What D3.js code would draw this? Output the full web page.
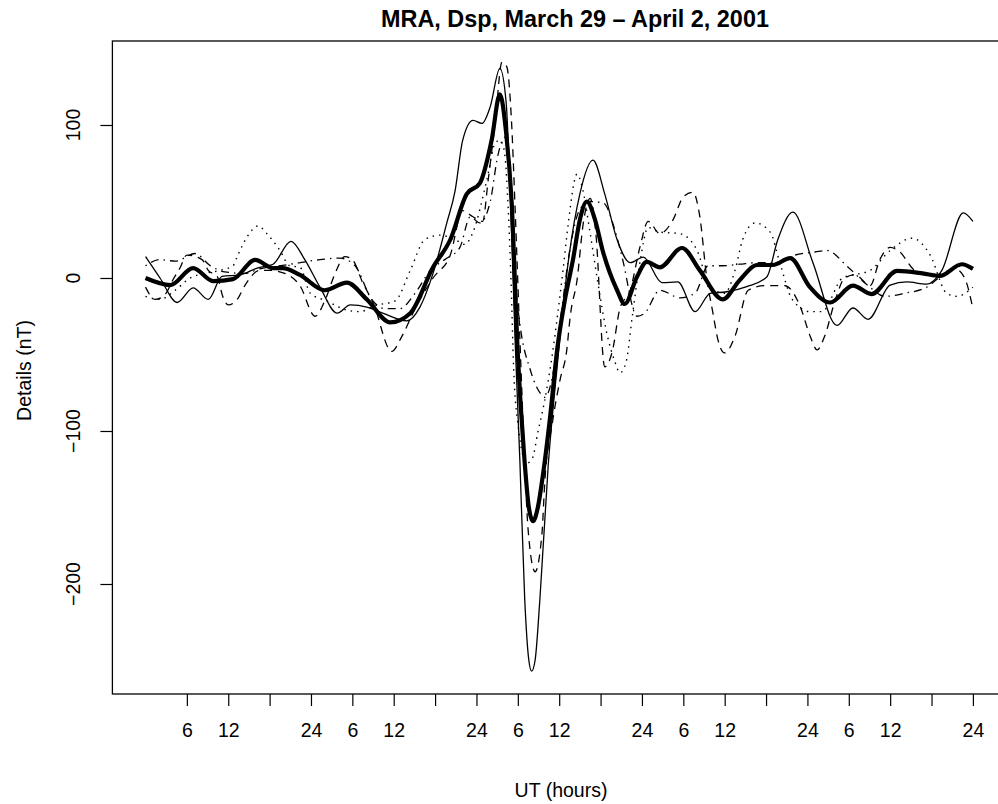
<!DOCTYPE html>
<html>
<head>
<meta charset="utf-8">
<script src="https://cdn.jsdelivr.net/npm/d3@7"></script>
<style>
  body { margin: 0; background: #fff; }
  text { font-family: "Liberation Sans", Arial, Helvetica, sans-serif; fill: #000; }
</style>
</head>
<body>
<div id="chart"></div>
<script>
// hours since 00 UT March 29, details in nT
var thickHours = [0,3.6,6.9,9.8,12.7,15.9,18.5,19.9,22.4,26.0,29.2,32.1,35.5,38.4,41.7,44.2,46.6,48.5,50.2,51.4,52.3,53.1,54.0,54.9,55.6,56.2,56.9,57.6,58.7,59.7,60.8,62.0,63.0,64.0,65.2,66.3,68.4,69.5,71.3,72.7,74.6,77.8,80.4,83.7,86.2,88.7,91.0,93.5,96.3,99.3,102.6,105.3,109.0,112.7,115.2,118.4,120];
var thickValues = [0,-4.6,6.5,-2,-0.7,11.8,6.5,6.5,2,-8,-3,-14,-29,-23,7,25,55,62,90,120,95,50,-50,-115,-150,-159,-150,-130,-90,-47,-15,12,38,50,38,18,-8,-17,1,10.5,7,19.6,5,-14,-1.3,8.5,8.5,13,-5.6,-16,-5,-10.5,4.6,3,1.3,9,6];

var solidHours = [0,2.1,4.6,6.9,9.1,11.1,13.7,16.2,18.5,21.1,23.1,25.3,27.8,29.7,32.1,34.4,37.9,39.8,41.7,43.7,44.9,46.0,47.5,48.8,50.0,51.4,52.3,52.9,53.6,54.3,55.0,55.6,56.0,56.5,57.2,58.4,59.7,61.3,63.0,64.9,66.6,68.4,70.3,72.2,74.9,77.2,79.7,81.9,84.3,87.2,90.1,91.7,93.9,96.8,100.3,102.6,104.8,108.0,110.4,113.3,115.5,118.6,120];
var solidValues = [14,0,-16,-6.5,-14,1,2,6.5,9,24,12,-6,-23,-17.6,-19,-23,-28,-19,3,36,57,90,103,101,112,137,115,55,-40,-120,-210,-250,-257,-250,-210,-123,-58,10,55,77,55,25,10,13.7,-3,-2.6,-22,-10,-9,-5.6,0.6,25,43,10,-31,-19.6,-27,-4.6,-2.6,-4,5,42.5,37];

var dashHours = [0,1.4,2.8,4.0,5.0,6.0,8.2,9.1,10.4,11.2,12.0,13.3,14.4,16.6,18.0,20.2,22.4,24.6,26.0,27.5,28.9,30.0,31.5,33.0,35.7,37.2,39.1,41.7,44.2,46.0,47.5,48.9,49.7,50.7,51.7,52.4,53.1,53.6,54.3,54.9,55.5,56.5,57.5,57.9,59.0,60.1,61.1,61.6,62.6,63.5,64.5,65.3,66.6,67.7,68.8,70.3,71.7,72.9,74.6,76.5,78.0,79.4,80.4,81.4,82.3,83.0,84.0,85.5,87.4,89.8,92.7,94.9,96.4,97.4,98.5,100.0,101.4,102.9,105.1,106.5,108.0,109.4,111.6,114.5,117.4,118.8,120];
var dashValues = [-6,-14,-11,-1,6.5,15,12,5,1,-12,-17.6,-14,-5,5,5,3,-5,-25,-15,3,14,12,-3,-16,-48,-38,-20,0,15,44,40,37,64,101,141,138,101,46,-40,-110,-165,-192,-167,-134,-95,-67,-47,-25,-1,36,52,30,-58,-48,-20,-8,20,37,29,38,53,56,40,0,-23,-40,-49,-38,-8,-5,-5,-18,-38,-47,-38,-15,0,2,-5,12,20,17,5,2,6,0,-20];

var dotHours = [0,2.1,4.3,6.5,8.6,10.8,12.7,13.3,14.9,16.3,17.8,19.5,20.9,22.4,23.9,26.3,29.2,31.1,33.3,36.2,38.4,40.5,42.7,44.9,46.3,47.5,49.5,50.7,51.4,52.0,52.6,53.0,53.4,54.0,55.3,56.1,56.9,57.9,59.0,59.8,60.6,61.3,62.6,63.3,64.5,65.5,66.9,68.1,68.8,69.7,70.6,71.7,72.9,74.6,77.5,80.0,81.9,84.0,85.5,86.6,88.4,90.6,92.0,93.8,96.4,98.1,101.1,105.1,108.0,111.2,113.8,116.2,117.7,120];
var dotValues = [-12,-14,-8,0,3,5,8,14,28,34,28,18,8,7,-10,-15,-21,-22,-18,-15,5,25,28,25,22,30,64,88,90,84,46,0,-60,-95,-121,-118,-101,-80,-50,-23,7,35,68,60,29,0,-36,-55,-62,-55,-25,10,33,30,29,18,-6,-10,5,25,36,30,10,-14,-22,-22,0,5,18,26,15,-10,-12,-6];

var dotDashHours = [0,2.1,4.3,7.2,9.4,11.5,14.4,16.6,19.5,22.4,25.3,28.2,30.4,32.8,34.7,36.9,39.1,41.3,43.4,45.6,47.1,48.5,50.0,51.1,52.1,52.9,53.6,54.3,55.8,57.2,57.9,59.0,60.1,61.6,63.0,64.5,66.4,68.1,69.1,71.3,72.4,74.6,77.5,79.7,81.6,83.7,86.2,88.7,91.3,94.2,97.1,98.8,101.9,104.8,107.2,110.1,113.3,115.9,118.6,120];
var dotDashValues = [8,12,11,16,8,4,3,6,8,10,12,13,8,-14,-20,-20,-10,5,12,20,40,36,50,80,92,60,0,-30,-60,-75,-78,-65,-30,20,45,50,49,31,14,-25,-23,-8,-13,-10,8,8,9,10,10,15,17,18,7,-5,-12,-10,-6,3,8,5];

var xTicks = d3.range(6, 121, 6);
var yTicks = [-200, -100, 0, 100];
var title = "MRA, Dsp, March 29 \u2013 April 2, 2001";

const width = 998;
const height = 804;
const box = { left: 112.4, right: 1006, top: 41, bottom: 694 };
const fontSize = 19.5;

var svg = d3.select("#chart").append("svg")
  .attr("width", width)
  .attr("height", height);

// R style: data range plus 4% on each side
var xPad = 120 * 0.04;
var x = d3.scaleLinear()
  .domain([-xPad, 120 + xPad])
  .range([box.left, box.right]);
var y = d3.scaleLinear()
  .domain([-271.9, 154.9])
  .range([box.bottom, box.top]);

var line = d3.line()
  .x(d => x(d[0]))
  .y(d => y(d[1]))
  .curve(d3.curveMonotoneX);

var series = [
  { hours: solidHours, values: solidValues, width: 1.3, dash: null },
  { hours: dashHours, values: dashValues, width: 1.3, dash: "8,6" },
  { hours: dotHours, values: dotValues, width: 1.4, dash: "1.5,5" },
  { hours: dotDashHours, values: dotDashValues, width: 1.3, dash: "1.5,5,8,5" },
  { hours: thickHours, values: thickValues, width: 4.2, dash: null }
];

svg.append("clipPath").attr("id", "plotclip")
  .append("rect")
  .attr("x", box.left).attr("y", box.top)
  .attr("width", box.right - box.left).attr("height", box.bottom - box.top);

var plot = svg.append("g").attr("clip-path", "url(#plotclip)");
series.forEach(function(s) {
  plot.append("path")
    .datum(d3.zip(s.hours, s.values))
    .attr("d", line)
    .attr("fill", "none")
    .attr("stroke", "black")
    .attr("stroke-width", s.width)
    .attr("stroke-linejoin", "round")
    .attr("stroke-dasharray", s.dash);
});

svg.append("rect")
  .attr("x", box.left).attr("y", box.top)
  .attr("width", box.right - box.left).attr("height", box.bottom - box.top)
  .attr("fill", "none")
  .attr("stroke", "black")
  .attr("stroke-width", 1.3);

// bottom axis, the 18h ticks carry no label
var xAxis = d3.axisBottom(x)
  .tickValues(xTicks)
  .tickSize(12)
  .tickPadding(17)
  .tickFormat(d => (d % 24 === 18) ? "" : String(d % 24 === 0 ? 24 : d % 24));
var gx = svg.append("g")
  .attr("transform", `translate(0,${box.bottom})`)
  .call(xAxis);
gx.select(".domain").remove();
gx.selectAll(".tick line").attr("stroke", "black").attr("stroke-width", 1.2);
gx.selectAll(".tick text").attr("font-size", fontSize).attr("fill", "black");

var yAxis = d3.axisLeft(y).tickValues(yTicks).tickSize(12).tickFormat(d3.format("d"));
var gy = svg.append("g")
  .attr("transform", `translate(${box.left},0)`)
  .call(yAxis);
gy.select(".domain").remove();
gy.selectAll(".tick line").attr("stroke", "black").attr("stroke-width", 1.2);
gy.selectAll(".tick text").remove();

svg.selectAll("text.ylab")
  .data(yTicks)
  .enter()
  .append("text")
  .attr("class", "ylab")
  .attr("transform", d => `translate(80,${y(d)}) rotate(-90)`)
  .attr("text-anchor", "middle")
  .attr("font-size", fontSize)
  .text(d => d3.format("d")(d));

svg.append("text")
  .attr("x", 575)
  .attr("y", 27)
  .attr("text-anchor", "middle")
  .attr("font-size", 23.4)
  .attr("font-weight", "bold")
  .text(title);

svg.append("text")
  .attr("x", 561)
  .attr("y", 797)
  .attr("text-anchor", "middle")
  .attr("font-size", fontSize)
  .text("UT (hours)");

svg.append("text")
  .attr("transform", `translate(31,${(box.top + box.bottom) / 2 + 3}) rotate(-90)`)
  .attr("text-anchor", "middle")
  .attr("font-size", fontSize)
  .text("Details (nT)");
</script>
</body>
</html>
